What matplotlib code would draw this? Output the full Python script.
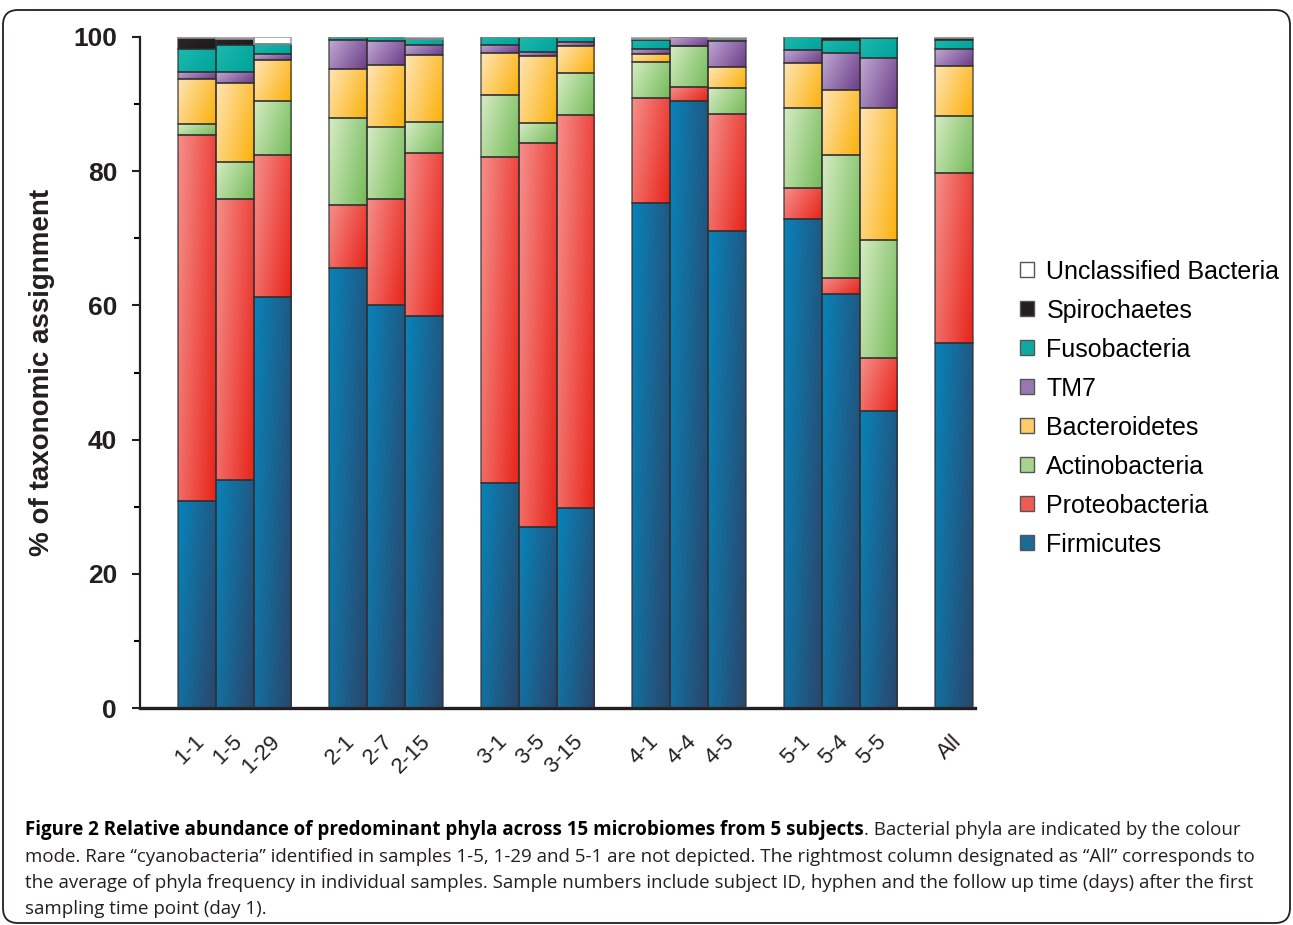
import numpy as np
import matplotlib
matplotlib.use("Agg")
import matplotlib.pyplot as plt
from matplotlib.patches import Patch, FancyBboxPatch
from matplotlib.transforms import IdentityTransform, ScaledTranslation
from matplotlib.colors import to_rgb

samples = ["1-1", "1-5", "1-29", "2-1", "2-7", "2-15", "3-1", "3-5", "3-15",
           "4-1", "4-4", "4-5", "5-1", "5-4", "5-5", "All"]
positions = [0, 1, 2, 4, 5, 6, 8, 9, 10, 12, 13, 14, 16, 17, 18, 20]

phyla = ["Firmicutes", "Proteobacteria", "Actinobacteria", "Bacteroidetes",
         "TM7", "Fusobacteria", "Spirochaetes", "Unclassified Bacteria"]

firmicutes     = [30.8, 34.0, 61.3, 65.6, 60.1, 58.4, 33.5, 27.0, 29.8, 75.3, 90.4, 71.1, 72.9, 61.7, 44.3, 54.4]
proteobacteria = [54.6, 41.9, 21.1,  9.4, 15.8, 24.3, 48.6, 57.2, 58.6, 15.6,  2.1, 17.4,  4.6,  2.4,  7.9, 25.3]
actinobacteria = [ 1.6,  5.5,  8.1, 12.9, 10.7,  4.6,  9.3,  3.0,  6.2,  5.3,  6.2,  3.9, 11.9, 18.3, 17.5,  8.5]
bacteroidetes  = [ 6.7, 11.8,  6.1,  7.3,  9.3, 10.0,  6.2,  9.9,  4.0,  1.2,  0.0,  3.1,  6.7,  9.7, 19.7,  7.5]
tm7            = [ 1.1,  1.6,  0.8,  4.3,  3.5,  1.5,  1.2,  0.7,  0.6,  0.8,  1.3,  3.9,  1.9,  5.5,  7.5,  2.5]
fusobacteria   = [ 3.4,  4.0,  1.6,  0.5,  0.6,  0.9,  1.2,  2.2,  0.8,  1.4,  0.0,  0.3,  2.0,  1.9,  2.9,  1.4]
spirochaetes   = [ 1.6,  0.9,  0.0,  0.0,  0.0,  0.0,  0.0,  0.0,  0.0,  0.1,  0.0,  0.0,  0.0,  0.5,  0.2,  0.2]
unclassified   = [ 0.2,  0.3,  1.0,  0.0,  0.0,  0.3,  0.0,  0.0,  0.0,  0.3,  0.0,  0.3,  0.0,  0.0,  0.0,  0.2]

series = [firmicutes, proteobacteria, actinobacteria, bacteroidetes,
          tm7, fusobacteria, spirochaetes, unclassified]

# (light, dark) ends of each gradient
grad_colors = [
    ("#0a80b6", "#28496f"),
    ("#f58a86", "#e8291f"),
    ("#d2e9bf", "#79bd5e"),
    ("#ffe2ad", "#fbb312"),
    ("#bca4cf", "#70428c"),
    ("#1cb8ad", "#00a39b"),
    ("#2a2627", "#1d1a1b"),
    ("#ffffff", "#ffffff"),
]
legend_colors = ["#1a6a9a", "#ef5a52", "#a8d48f", "#fdcb6a", "#9877b0",
                 "#0eaaa2", "#231f20", "#ffffff"]

caption_bold = "Figure 2 Relative abundance of predominant phyla across 15 microbiomes from 5 subjects"
caption_lines = [
    ". Bacterial phyla are indicated by the colour",
    "mode. Rare \u201ccyanobacteria\u201d identified in samples 1-5, 1-29 and 5-1 are not depicted. The rightmost column designated as \u201cAll\u201d corresponds to",
    "the average of phyla frequency in individual samples. Sample numbers include subject ID, hyphen and the follow up time (days) after the first",
    "sampling time point (day 1).",
]

plt.rcParams["font.family"] = ["Liberation Sans", "DejaVu Sans"]

W, H = 1293, 925
fig = plt.figure(figsize=(W / 100, H / 100), dpi=100)
ax = fig.add_axes([140 / W, 1 - 708 / H, (975 - 140) / W, (708 - 37) / H])


def gradient(light, dark, n=40):
    l = np.array(to_rgb(light))
    d = np.array(to_rgb(dark))
    xf = np.linspace(0, 1, n)[None, :]
    yf = np.linspace(0, 1, n)[:, None]
    t = np.clip(0.75 * xf + 0.35 * yf - 0.05, 0, 1)
    return l + (d - l) * t[..., None]


bottoms = np.zeros(len(samples))
for vals, (light, dark) in zip(series, grad_colors):
    vals = np.array(vals)
    edge = "#9a9a9a" if light == "#ffffff" else (0.18, 0.18, 0.18, 0.75)
    bars = ax.bar(positions, vals, bottom=bottoms, width=1.0, facecolor="none",
                  edgecolor=edge, linewidth=1.1, zorder=3)
    img = gradient(light, dark)
    for rect, v in zip(bars, vals):
        if v <= 0:
            continue
        x0, y0 = rect.get_x(), rect.get_y()
        im = ax.imshow(img, extent=(x0, x0 + rect.get_width(), y0, y0 + rect.get_height()),
                       origin="upper", aspect="auto", interpolation="bilinear", zorder=2)
        im.set_clip_path(rect)
    bottoms += vals

ax.set_xlim(-1.5, 20.55)
ax.set_ylim(0, 100)

for s in ["top", "right"]:
    ax.spines[s].set_visible(False)
ax.spines["left"].set_linewidth(1.6)
ax.spines["bottom"].set_linewidth(2.4)
ax.spines["left"].set_color("#231f20")
ax.spines["bottom"].set_color("#231f20")

ax.set_yticks([0, 20, 40, 60, 80, 100])
ax.set_yticks([10, 30, 50, 70, 90], minor=True)
ax.tick_params(axis="y", which="major", length=5.5, width=1.5, pad=11,
               labelsize=19, colors="#231f20")
ax.tick_params(axis="y", which="minor", length=4.5, width=1.5)
for lab in ax.get_yticklabels():
    lab.set_fontweight("bold")

ax.set_xticks(positions)
ax.set_xticklabels(samples, rotation=45, ha="right", va="center",
                   rotation_mode="anchor", fontsize=16, color="#231f20")
ax.tick_params(axis="x", length=0, pad=22)
shift = ScaledTranslation(4 / 100, 0, fig.dpi_scale_trans)
for lab in ax.get_xticklabels():
    lab.set_transform(lab.get_transform() + shift)

ax.set_ylabel("% of taxonomic assignment", fontsize=20, fontweight="bold",
              color="#231f20", labelpad=13)

handles = [Patch(facecolor=c, edgecolor="#555555", linewidth=1.0)
           for c in legend_colors]
ax.legend(handles[::-1], phyla[::-1], loc="center left",
          bbox_to_anchor=(1.042, 0.447), frameon=False, fontsize=18,
          handlelength=0.55, handleheight=0.55, handletextpad=0.5,
          labelspacing=0.6, borderaxespad=0)

# caption, left aligned with natural spacing
renderer = fig.canvas.get_renderer()
cap_font = ["Open Sans", "DejaVu Sans"]
probe = fig.text(0, 0, caption_lines[1], fontsize=10, family=cap_font,
                 transform=IdentityTransform())
w10 = probe.get_window_extent(renderer).width
probe.remove()
cap_size = 10 * 1229 / w10

baselines = [835, 861.5, 888, 914.5]
t = fig.text(25, H - baselines[0], caption_bold, fontsize=cap_size, family=cap_font,
             fontweight="bold", va="baseline", transform=IdentityTransform())
bx = t.get_window_extent(renderer).x1
fig.text(bx, H - baselines[0], caption_lines[0], fontsize=cap_size, family=cap_font,
         va="baseline", color="#231f20", transform=IdentityTransform())
for line, b in zip(caption_lines[1:], baselines[1:]):
    fig.text(25, H - b, line, fontsize=cap_size, family=cap_font, va="baseline",
             color="#231f20", transform=IdentityTransform())

frame = FancyBboxPatch((3, 2), 1287, 913, boxstyle="round,pad=0,rounding_size=15",
                       transform=IdentityTransform(), facecolor="none",
                       edgecolor="#231f20", linewidth=1.3)
fig.patches.append(frame)

fig.savefig("out.png", dpi=100)
